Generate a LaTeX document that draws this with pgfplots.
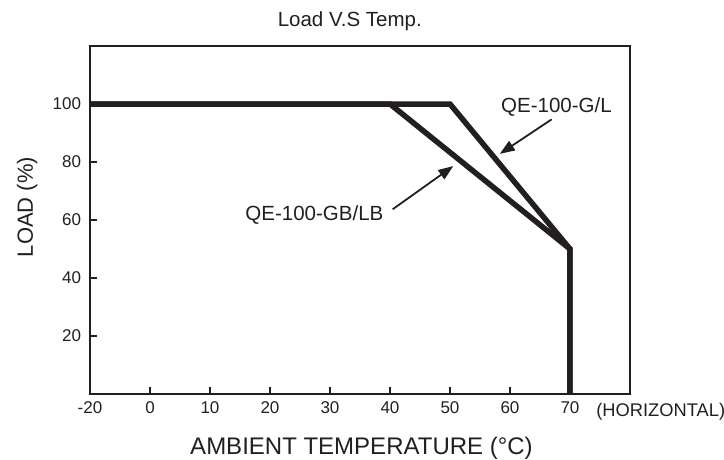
\documentclass[border=0pt]{standalone}
\usepackage{pgfplots}
\pgfplotsset{compat=1.18}
\usepackage{fontspec}
\setmainfont{Liberation Sans}
\usetikzlibrary{arrows.meta}
\definecolor{ink}{HTML}{231F20}
\begin{document}
\begin{tikzpicture}
\begin{axis}[
  at={(0pt,0pt)}, anchor=south west,
  width=540pt, height=348pt, scale only axis,
  xmin=-10, xmax=80, ymin=0, ymax=120,
  axis line style={line width=1.2pt, ink},
  xtick={-10,0,10,20,30,40,50,60,70},
  xticklabels={-20,0,10,20,30,40,50,60,70},
  ytick={20,40,60,80,100},
  tick align=inside, xtick pos=bottom, ytick pos=left,
  major tick length=7pt,
  tick style={line width=1.2pt, ink},
  /pgf/number format/assume math mode=true,
  ticklabel style={font=\fontsize{17}{19}\selectfont, text=ink},
  xticklabel style={yshift=-4.5pt},
  yticklabel style={xshift=-5.5pt},
  clip=false,
]
\addplot[line width=5.5pt, ink, line join=miter] coordinates {(-10,100) (40,100) (70,50) (70,0)};
\addplot[line width=5.5pt, ink, line join=miter] coordinates {(-10,100) (50,100) (70,50) (70,0)};
\draw[line width=1.8pt, ink, -{Triangle[length=15pt,width=11pt]}] (axis cs:66.95,94.7) -- (axis cs:58.3,82.8);
\draw[line width=1.8pt, ink, -{Triangle[length=15pt,width=11pt]}] (axis cs:40.45,63.7) -- (axis cs:50.55,78.6);
\node[anchor=base, text=ink, font=\fontsize{20.5}{22}\selectfont] at (axis cs:67.75,97.0) {QE-100-G/L};
\node[anchor=base, text=ink, font=\fontsize{20.5}{22}\selectfont] at (axis cs:27.4,60.0) {QE-100-GB/LB};
\node[anchor=base, text=ink, font=\fontsize{20.5}{22}\selectfont] at (axis cs:33.3,126.6) {Load V.S Temp.};
\node[anchor=base, text=ink, font=\fontsize{24}{26}\selectfont] at (axis cs:35.25,-21.0) {AMBIENT TEMPERATURE (°C)};
\node[anchor=base, rotate=90, text=ink, font=\fontsize{22}{24}\selectfont] at (axis cs:-19.5,64.5) {LOAD (\%)};
\node[anchor=base west, text=ink, font=\fontsize{18.3}{20}\selectfont] at (axis cs:73.8,-7.6) {(HORIZONTAL)};
\end{axis}
\pgfresetboundingbox
\useasboundingbox (-90pt,-65pt) rectangle (634pt,394pt);
\end{tikzpicture}
\end{document}
